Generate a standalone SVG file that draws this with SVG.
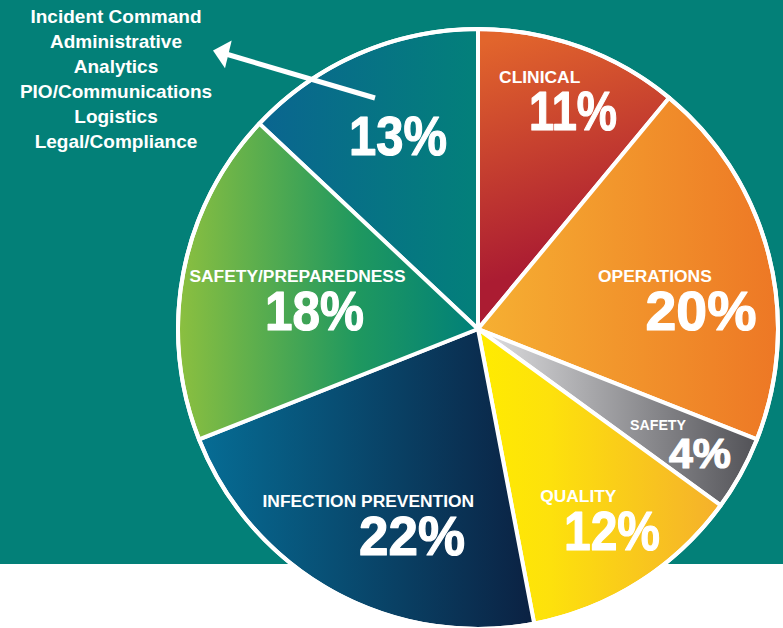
<svg xmlns="http://www.w3.org/2000/svg" width="783" height="628" viewBox="0 0 783 628">
<defs>
<linearGradient id="gClin" gradientUnits="userSpaceOnUse" x1="490" y1="40" x2="560" y2="260">
<stop offset="0" stop-color="#e2652c"/><stop offset="1" stop-color="#ab1c32"/>
</linearGradient>
<linearGradient id="gOps" gradientUnits="userSpaceOnUse" x1="478" y1="0" x2="780" y2="0">
<stop offset="0" stop-color="#f6b032"/><stop offset="1" stop-color="#ed7725"/>
</linearGradient>
<linearGradient id="gSaf" gradientUnits="userSpaceOnUse" x1="500" y1="0" x2="757" y2="0">
<stop offset="0" stop-color="#d6d6d8"/><stop offset="1" stop-color="#525257"/>
</linearGradient>
<linearGradient id="gQual" gradientUnits="userSpaceOnUse" x1="478" y1="0" x2="720" y2="0">
<stop offset="0" stop-color="#ffec00"/><stop offset="0.3" stop-color="#fde10c"/><stop offset="1" stop-color="#f5b02c"/>
</linearGradient>
<linearGradient id="gIP" gradientUnits="userSpaceOnUse" x1="199" y1="0" x2="535" y2="0">
<stop offset="0" stop-color="#066d95"/><stop offset="1" stop-color="#0b2142"/>
</linearGradient>
<linearGradient id="gSP" gradientUnits="userSpaceOnUse" x1="176" y1="0" x2="478" y2="0">
<stop offset="0" stop-color="#8dc03f"/><stop offset="0.6" stop-color="#1f985f"/><stop offset="1" stop-color="#008079"/>
</linearGradient>
<linearGradient id="g13" gradientUnits="userSpaceOnUse" x1="259" y1="0" x2="478" y2="0">
<stop offset="0" stop-color="#0a6590"/><stop offset="1" stop-color="#03807a"/>
</linearGradient>
<style>
.sl{stroke:#fff;stroke-width:4;stroke-linejoin:round}
.t{fill:#fff;font-family:"Liberation Sans",Arial,sans-serif;font-weight:bold}
.lab{font-size:17.4px;text-anchor:middle}
.pct{font-size:56px;stroke:#fff;stroke-width:1.2;stroke-linejoin:round}
.lst{font-size:19px;text-anchor:middle}
</style>
</defs>
<rect x="0" y="0" width="783" height="628" fill="#fff"/>
<rect x="0" y="0" width="783" height="564" fill="#038078"/>

<g id="legend">
<text class="t lst" x="116" y="23.3">Incident Command</text>
<text class="t lst" x="116" y="48.3">Administrative</text>
<text class="t lst" x="116" y="73.3">Analytics</text>
<text class="t lst" x="116" y="98.3">PIO/Communications</text>
<text class="t lst" x="116" y="123.3">Logistics</text>
<text class="t lst" x="116" y="148.3">Legal/Compliance</text>
</g>

<g id="slice-other">
<path class="sl" fill="url(#g13)" d="M478,329 L259.31,123.63 A300,300 0 0 1 478,29 Z"/>
<text class="t pct" x="349" y="155" textLength="98" lengthAdjust="spacingAndGlyphs">13%</text>
</g>
<g id="slice-clinical">
<path class="sl" fill="url(#gClin)" d="M478,329 L478,29 A300,300 0 0 1 669.23,97.85 Z"/>
<text class="t lab" x="539.7" y="82.7">CLINICAL</text>
<text class="t pct" x="529" y="130" textLength="88" lengthAdjust="spacingAndGlyphs">11%</text>
</g>
<g id="slice-operations">
<path class="sl" fill="url(#gOps)" d="M478,329 L669.23,97.85 A300,300 0 0 1 756.93,439.44 Z"/>
<text class="t lab" x="654.9" y="281.7">OPERATIONS</text>
<text class="t pct" x="645.5" y="330" textLength="111" lengthAdjust="spacingAndGlyphs">20%</text>
</g>
<g id="slice-safety">
<path class="sl" fill="url(#gSaf)" d="M478,329 L756.93,439.44 A300,300 0 0 1 720.71,505.34 Z"/>
<text class="t lab" x="658" y="430" style="font-size:14.2px">SAFETY</text>
<text class="t pct" x="669" y="468.3" style="font-size:42px" textLength="62" lengthAdjust="spacingAndGlyphs">4%</text>
</g>
<g id="slice-quality">
<path class="sl" fill="url(#gQual)" d="M478,329 L720.71,505.34 A300,300 0 0 1 534.21,623.69 Z"/>
<text class="t lab" x="578.3" y="501.7">QUALITY</text>
<text class="t pct" x="564" y="550" textLength="96" lengthAdjust="spacingAndGlyphs">12%</text>
</g>
<g id="slice-infection-prevention">
<path class="sl" fill="url(#gIP)" d="M478,329 L534.21,623.69 A300,300 0 0 1 199.07,439.44 Z"/>
<text class="t lab" x="368.3" y="506.7">INFECTION PREVENTION</text>
<text class="t pct" x="359" y="555" textLength="106" lengthAdjust="spacingAndGlyphs">22%</text>
</g>
<g id="slice-safety-preparedness">
<path class="sl" fill="url(#gSP)" d="M478,329 L199.07,439.44 A300,300 0 0 1 259.31,123.63 Z"/>
<text class="t lab" x="297.5" y="281.7">SAFETY/PREPAREDNESS</text>
<text class="t pct" x="265" y="330" textLength="99" lengthAdjust="spacingAndGlyphs">18%</text>
</g>
<circle cx="478" cy="329" r="300" fill="none" stroke="#fff" stroke-width="4"/>

<g id="connectors">
<line x1="375" y1="98" x2="226" y2="54" stroke="#fff" stroke-width="5"/>
<polygon points="213,50.5 231.7,40.5 225,68.3" fill="#fff"/>
</g>
</svg>
